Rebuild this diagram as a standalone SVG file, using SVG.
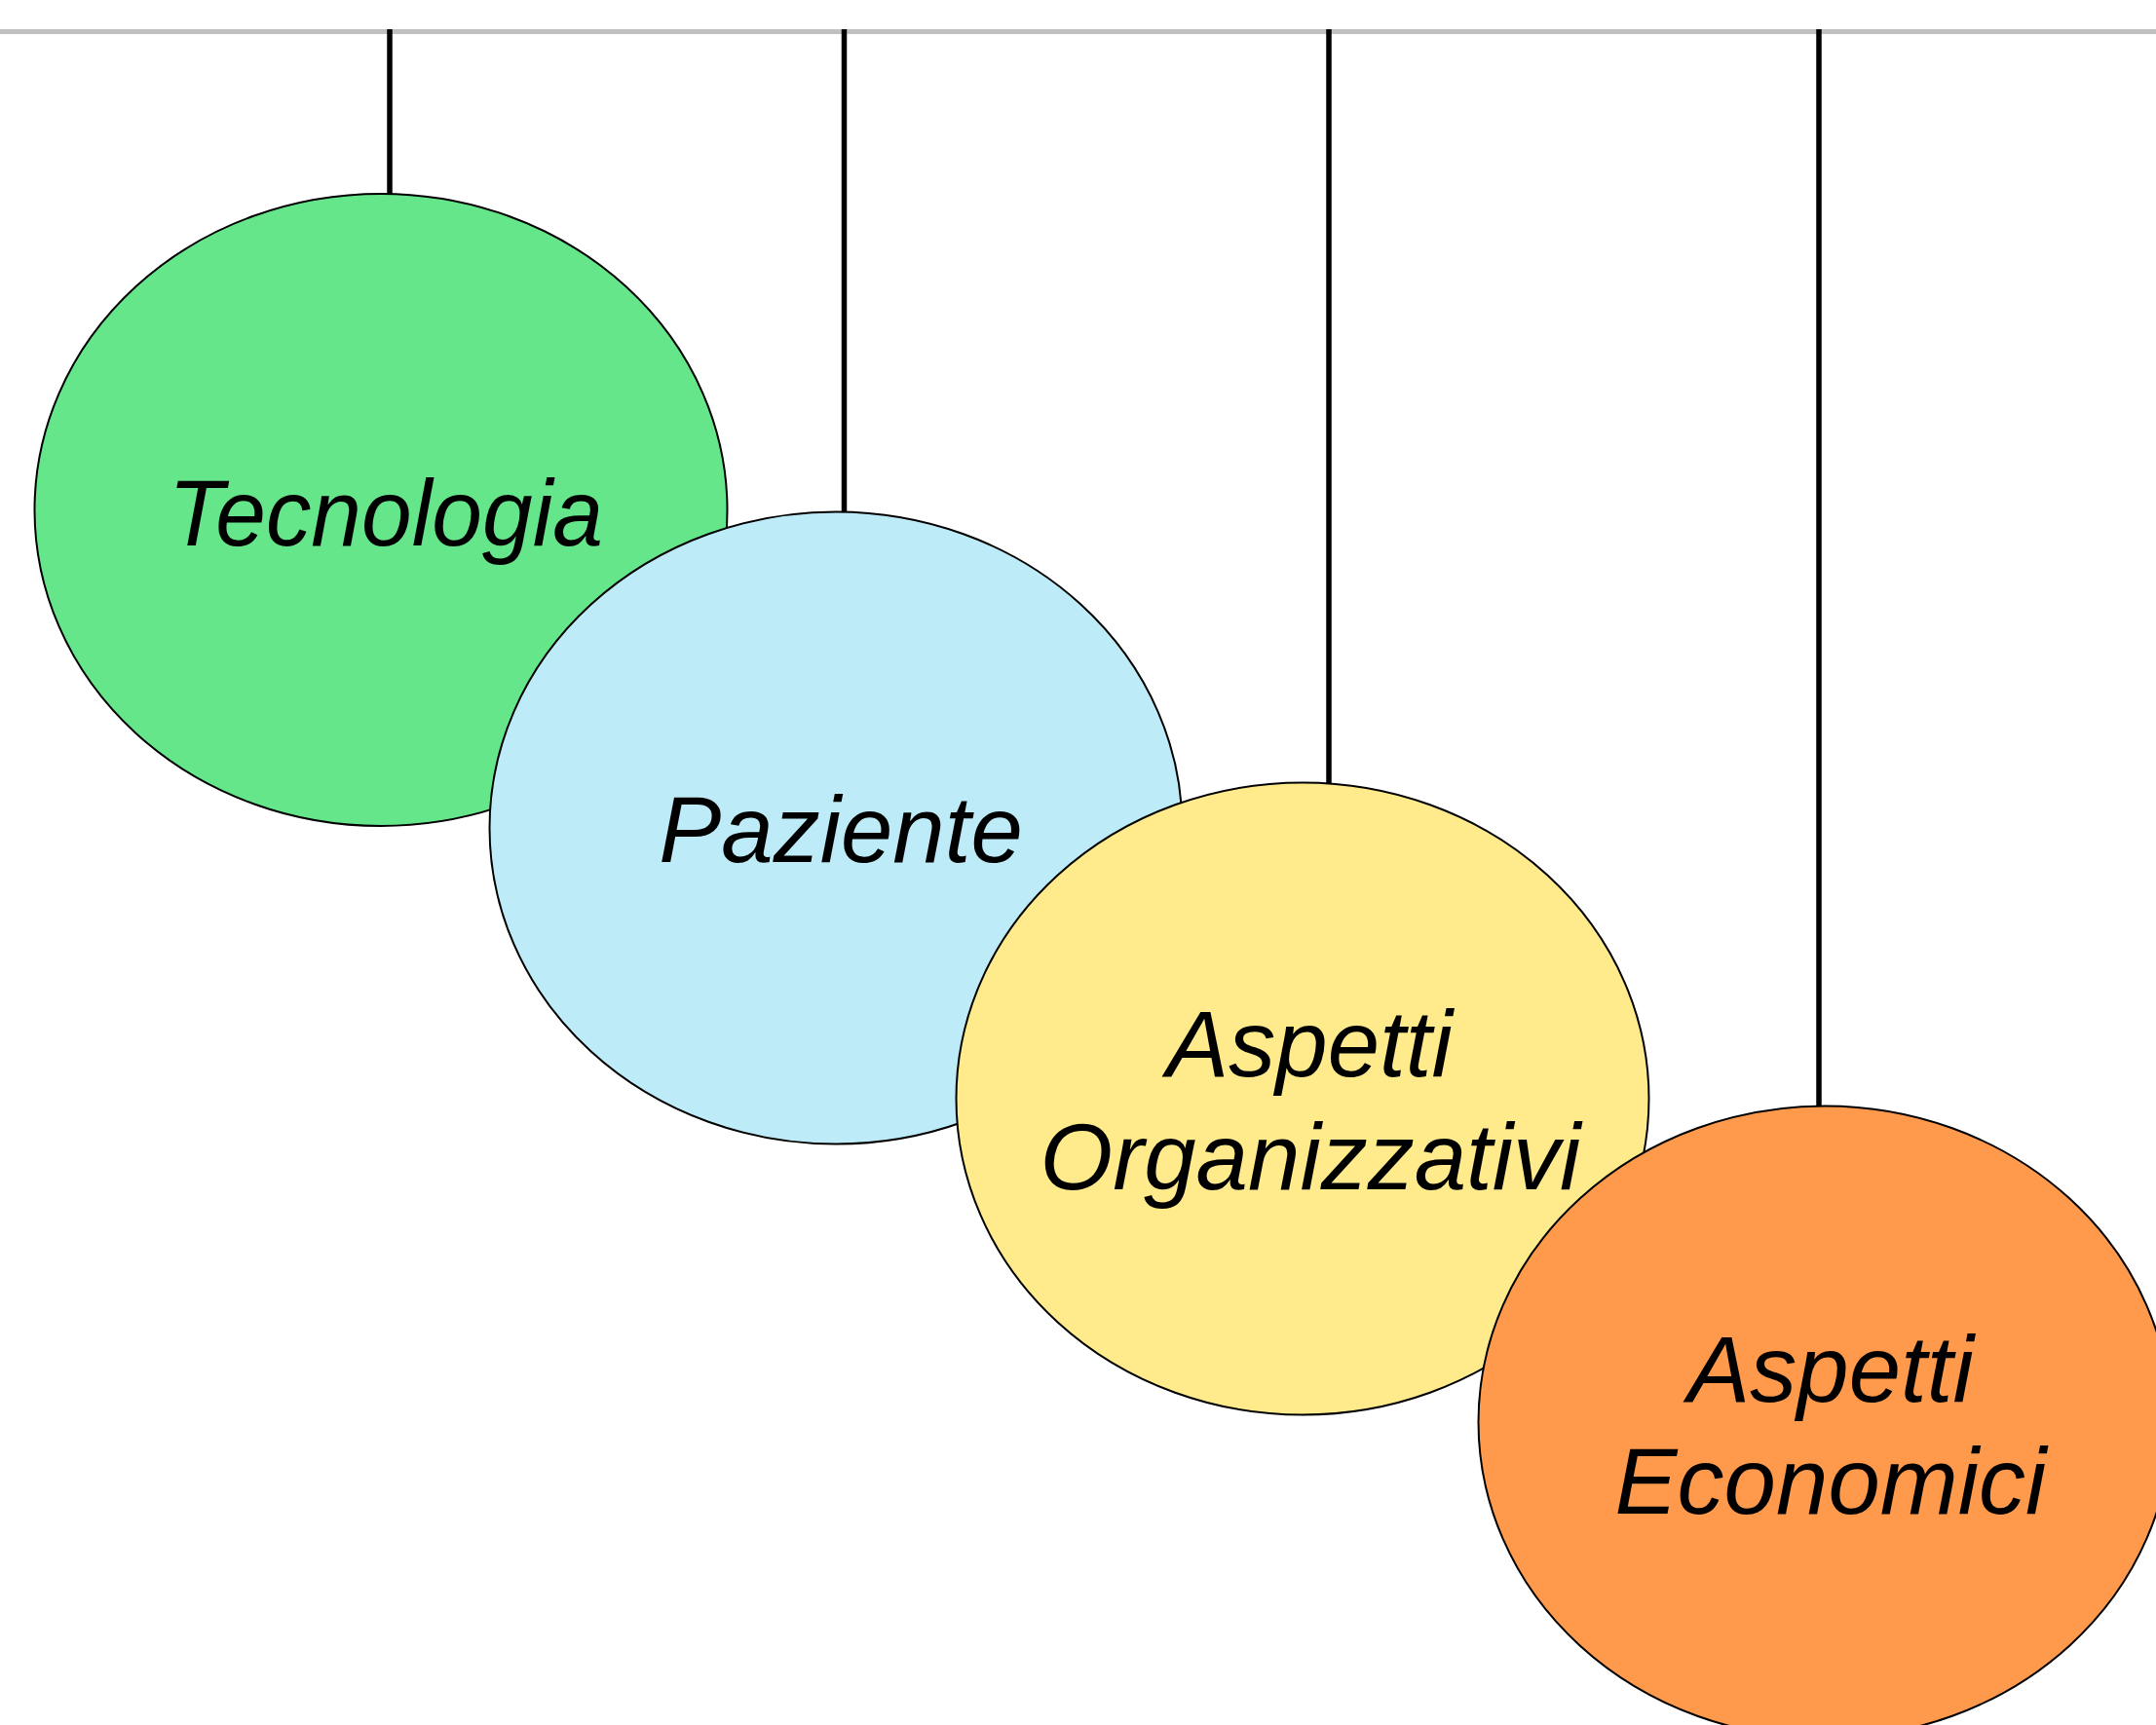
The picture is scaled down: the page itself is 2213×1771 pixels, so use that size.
<svg xmlns="http://www.w3.org/2000/svg" width="2213" height="1771" viewBox="0 0 2213 1771">
<style>
.bar{stroke:#c0c0c0;stroke-width:5;fill:none}
.str{stroke:#000;stroke-width:5.5;fill:none}
.ball{stroke:#000;stroke-width:2}
.lbl{font-family:"Liberation Sans",Arial,sans-serif;font-style:italic;font-size:96px;fill:#000;text-anchor:middle}
</style>
<rect width="2213" height="1771" fill="#fff"/>
<g id="connectors">
<line class="bar" x1="0" y1="32.5" x2="2213" y2="32.5"/>
<line class="str" x1="400" y1="30" x2="400" y2="200"/>
<line class="str" x1="866.5" y1="30" x2="866.5" y2="526"/>
<line class="str" x1="1364" y1="30" x2="1364" y2="804"/>
<line class="str" x1="1867" y1="30" x2="1867" y2="1136"/>
</g>
<g id="tecnologia">
<ellipse class="ball" cx="391" cy="523.5" rx="355.5" ry="324.5" fill="#66e68a"/>
<text class="lbl" x="396" y="560" textLength="446" lengthAdjust="spacingAndGlyphs">Tecnologia</text>
</g>
<g id="paziente">
<ellipse class="ball" cx="858" cy="850" rx="355.5" ry="324.5" fill="#bdebf7"/>
<text class="lbl" x="863" y="885">Paziente</text>
</g>
<g id="organizzativi">
<ellipse class="ball" cx="1337" cy="1128" rx="355.5" ry="324.5" fill="#ffea8c"/>
<text class="lbl" x="1344" y="1105">Aspetti</text>
<text class="lbl" x="1345" y="1221">Organizzativi</text>
</g>
<g id="economici">
<ellipse class="ball" cx="1873" cy="1460" rx="355.5" ry="324.5" fill="#ff9a4c"/>
<text class="lbl" x="1879" y="1439">Aspetti</text>
<text class="lbl" x="1879" y="1554">Economici</text>
</g>
</svg>
